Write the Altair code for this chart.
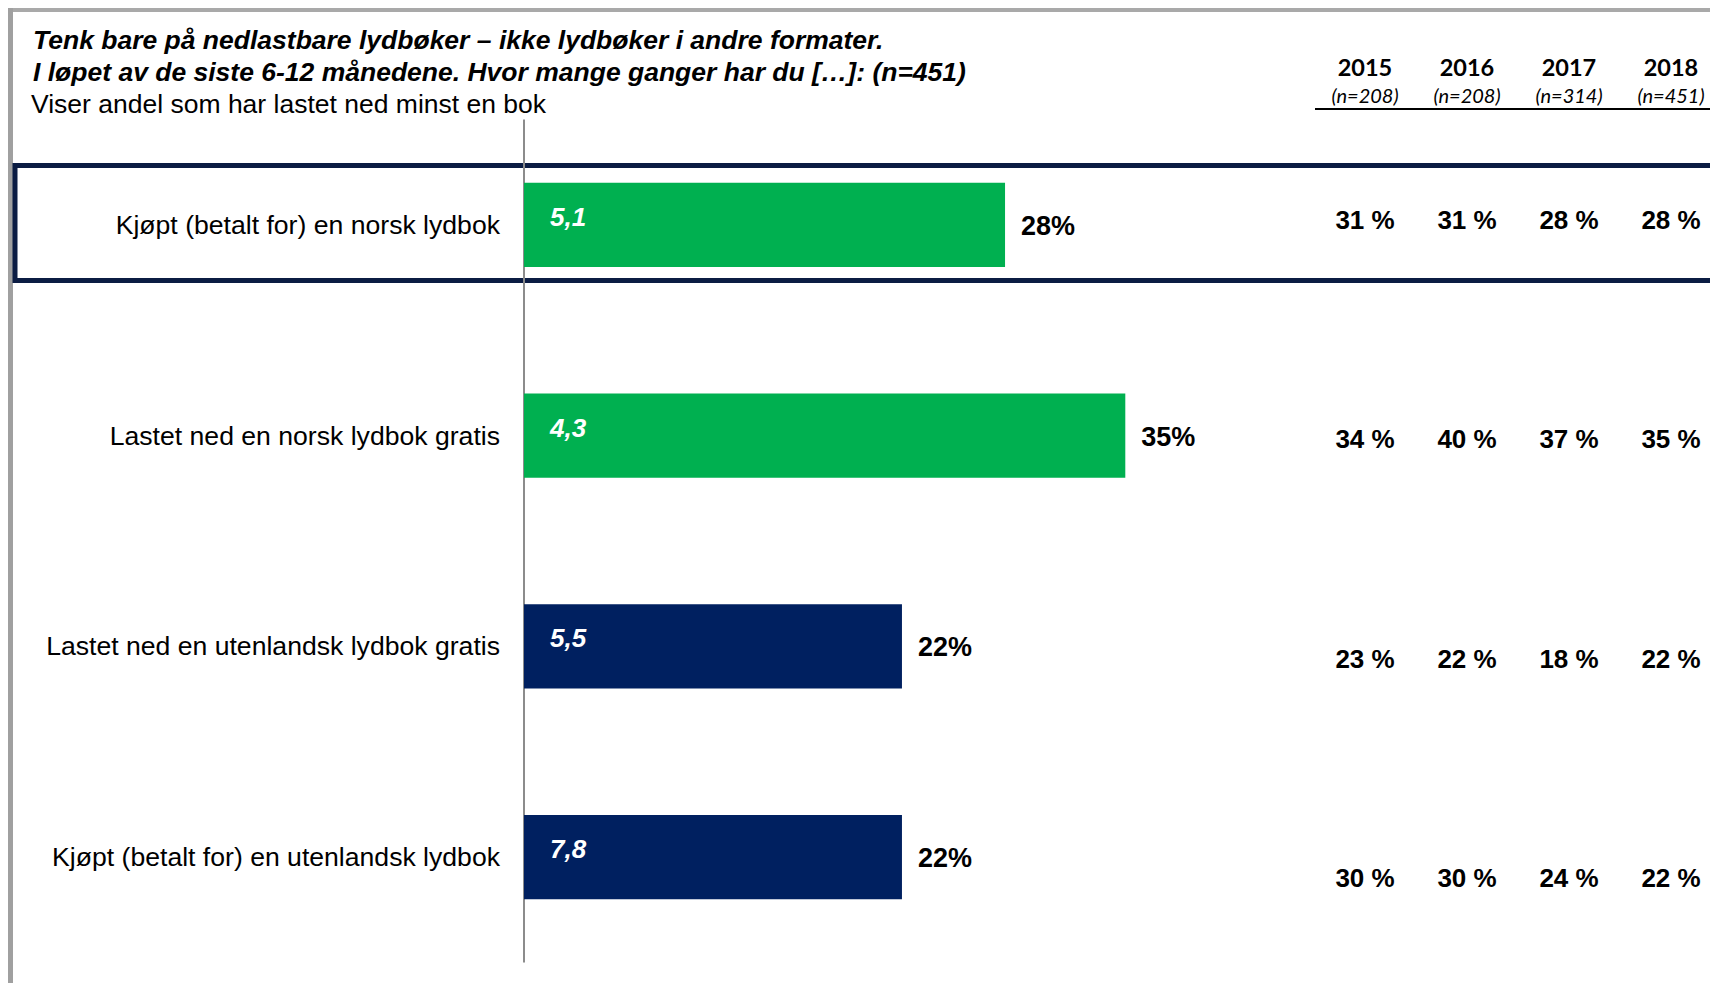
import altair as alt
import pandas as pd

# ---------------- data ----------------
categories = [
    "Kjøpt (betalt for) en norsk lydbok",
    "Lastet ned en norsk lydbok gratis",
    "Lastet ned en utenlandsk lydbok gratis",
    "Kjøpt (betalt for) en utenlandsk lydbok",
]
share_2018 = [28, 35, 22, 22]
bar_labels = ["5,1", "4,3", "5,5", "7,8"]
bar_colors = ["#00B050", "#00B050", "#002060", "#002060"]

years = ["2015", "2016", "2017", "2018"]
year_n = ["(n=208)", "(n=208)", "(n=314)", "(n=451)"]
trend_2015 = [31, 34, 23, 30]
trend_2016 = [31, 40, 22, 30]
trend_2017 = [28, 37, 18, 24]
trend_2018 = [28, 35, 22, 22]

title_lines = [
    "Tenk bare på nedlastbare lydbøker – ikke lydbøker i andre formater.",
    "I løpet av de siste 6-12 månedene. Hvor mange ganger har du […]: (n=451)",
]
subtitle = "Viser andel som har lastet ned minst en bok"

# ---------------- tables ----------------
bars = pd.DataFrame({
    "category": categories,
    "value": share_2018,
    "label": bar_labels,
    "color": bar_colors,
    "pct": [f"{v}%" for v in share_2018],
})

rows = []
for y, vals in zip(years, [trend_2015, trend_2016, trend_2017, trend_2018]):
    for c, v in zip(categories, vals):
        rows.append({"year": y, "category": c, "text": f"{v} %"})
table = pd.DataFrame(rows)
header = pd.DataFrame({"year": years, "n": year_n})
one = pd.DataFrame({"k": [0]})

W, H = 1702, 975
FONT = "Liberation Sans"

x_bar = alt.Scale(domain=[0, 100], range=[516, 516 + 1718])
y_band = alt.Scale(domain=categories, range=[111.6, 954.4], paddingInner=0.6, paddingOuter=0.3)
x_year = alt.Scale(domain=years, range=[1357, 1663], padding=0)
y_row = alt.Scale(domain=categories, range=[213, 871], padding=0)

# ---------------- decoration ----------------
shadow_top = alt.Chart(one).mark_rect(color="#a9a9a9").encode(
    x=alt.value(0), x2=alt.value(W), y=alt.value(0), y2=alt.value(4))
shadow_left = alt.Chart(one).mark_rect(color="#a0a0a0").encode(
    x=alt.value(0), x2=alt.value(5), y=alt.value(0), y2=alt.value(H))

highlight = alt.Chart(one).mark_rect(fill=None, fillOpacity=0, stroke="#0b1c43", strokeWidth=5).encode(
    x=alt.value(7), x2=alt.value(W + 20), y=alt.value(157.5), y2=alt.value(272.5))

axis_line = alt.Chart(one).mark_rule(color="#8c8c8c", strokeWidth=2).encode(
    x=alt.datum(0, scale=x_bar, axis=None), y=alt.value(111.6), y2=alt.value(954.4))

# ---------------- bars ----------------
bar_layer = alt.Chart(bars).mark_bar().encode(
    x=alt.X("value:Q", scale=x_bar, axis=None),
    x2=alt.datum(0),
    y=alt.Y("category:N", scale=y_band, axis=None),
    color=alt.Color("color:N", scale=None),
)

inner_labels = alt.Chart(bars).mark_text(
    align="left", baseline="middle", dx=26, dy=-7, font=FONT, fontSize=26,
    fontWeight="bold", fontStyle="italic", color="white").encode(
    x=alt.datum(0, scale=x_bar, axis=None),
    y=alt.Y("category:N", scale=y_band, axis=None),
    text="label:N",
)

pct_labels = alt.Chart(bars).mark_text(
    align="left", baseline="middle", dx=16, dy=2, font=FONT, fontSize=27,
    fontWeight="bold", color="black").encode(
    x=alt.X("value:Q", scale=x_bar, axis=None),
    y=alt.Y("category:N", scale=y_band, axis=None),
    text="pct:N",
)

cat_labels = alt.Chart(bars).mark_text(
    align="right", baseline="middle", dy=1, font=FONT, fontSize=26.6, color="black").encode(
    x=alt.value(492),
    y=alt.Y("category:N", scale=y_band, axis=None),
    text="category:N",
)

# ---------------- table ----------------
table_layer = alt.Chart(table).mark_text(
    align="center", baseline="middle", font=FONT, fontSize=26, fontWeight="bold", color="black").encode(
    x=alt.X("year:O", scale=x_year, axis=None),
    y=alt.Y("category:N", scale=y_row, axis=None),
    text="text:N",
)

year_head = alt.Chart(header).mark_text(
    align="center", baseline="middle", font="Lato", fontSize=23.5, fontWeight="bold", color="black").encode(
    x=alt.X("year:O", scale=x_year, axis=None),
    y=alt.value(61),
    text="year:N",
)
n_head = alt.Chart(header).mark_text(
    align="center", baseline="middle", font="Lato", fontSize=20, fontStyle="italic", color="black").encode(
    x=alt.X("year:O", scale=x_year, axis=None),
    y=alt.value(89),
    text="n:N",
)
head_rule = alt.Chart(one).mark_rule(color="black", strokeWidth=2).encode(
    x=alt.value(1307), x2=alt.value(W), y=alt.value(101))

# ---------------- titles ----------------
t1 = alt.Chart(one).mark_text(
    align="left", baseline="middle", font=FONT, fontSize=26.5, fontWeight="bold", fontStyle="italic",
    color="black").encode(x=alt.value(25), y=alt.value(33), text=alt.value(title_lines[0]))
t2 = alt.Chart(one).mark_text(
    align="left", baseline="middle", font=FONT, fontSize=26.5, fontWeight="bold", fontStyle="italic",
    color="black").encode(x=alt.value(25), y=alt.value(65), text=alt.value(title_lines[1]))
t3 = alt.Chart(one).mark_text(
    align="left", baseline="middle", font=FONT, fontSize=26.5, color="black").encode(
    x=alt.value(23), y=alt.value(97), text=alt.value(subtitle))

chart = alt.layer(
    shadow_top, shadow_left, highlight, axis_line, bar_layer, inner_labels, pct_labels, cat_labels,
    table_layer, year_head, n_head, head_rule, t1, t2, t3,
).resolve_scale(x="independent", y="independent").properties(
    width=W, height=H, autosize=alt.AutoSizeParams(type="none"), padding=0,
).configure_view(stroke=None).configure(background="white")

chart.save("out.html", embed_options={"renderer": "svg", "actions": False})
